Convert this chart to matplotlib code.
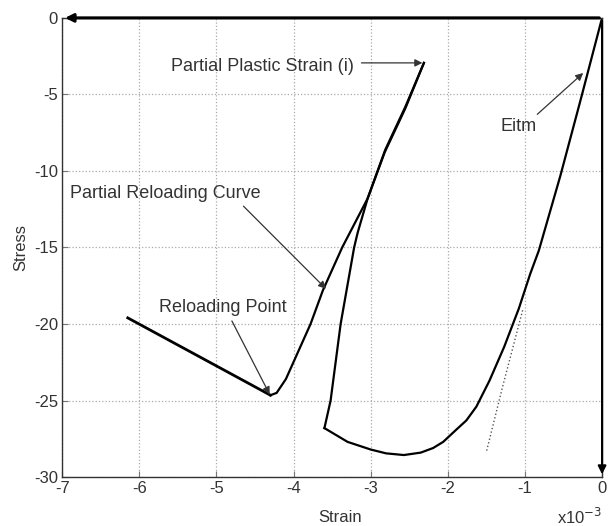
import matplotlib
matplotlib.use("Agg")
import matplotlib.pyplot as plt

plt.rcParams['font.family'] = ['Liberation Sans', 'DejaVu Sans']
plt.rcParams['axes.unicode_minus'] = False

# Envelope (monotonic loading) curve: strain (x1e-3), stress
env_strain = [0.0, -0.27, -0.54, -0.82, -0.93, -1.08, -1.27, -1.46, -1.63, -1.76, -1.89, -2.06, -2.19,
              -2.35, -2.57, -2.80, -3.00, -3.30, -3.60]
env_stress = [0.0, -5.2, -10.3, -15.2, -16.7, -19.0, -21.5, -23.7, -25.4, -26.3, -26.9, -27.7, -28.1,
              -28.4, -28.56, -28.45, -28.2, -27.7, -26.8]

# Unloading curve down to partial plastic strain
unl_strain = [-3.60, -3.52, -3.39, -3.215, -3.17, -3.04, -2.81, -2.55, -2.31]
unl_stress = [-26.8, -25.0, -20.0, -15.0, -14.05, -11.8, -8.6, -5.8, -2.94]

# Partial reloading curve
rel_strain = [-2.31, -2.55, -2.82, -3.04, -3.37, -3.62, -3.78, -4.10, -4.22, -4.30]
rel_stress = [-2.94, -5.9, -8.8, -11.8, -15.0, -17.8, -20.0, -23.6, -24.5, -24.65]

# Segment after reloading point
seg_strain = [-4.30, -6.15]
seg_stress = [-24.65, -19.6]

# Dotted elastic-parallel line
dot_strain = [-1.03, -1.29, -1.50]
dot_stress = [-19.1, -24.1, -28.35]

xticks = [-7, -6, -5, -4, -3, -2, -1, 0]
yticks = [0, -5, -10, -15, -20, -25, -30]

fig = plt.figure(figsize=(6.10, 5.26), dpi=100)
ax = fig.add_axes([0.102, 0.093, 0.885, 0.873])

ax.plot(env_strain, env_stress, color='black', lw=1.6)
ax.plot(unl_strain, unl_stress, color='black', lw=1.6)
ax.plot(rel_strain, rel_stress, color='black', lw=1.6)
ax.plot(seg_strain, seg_stress, color='black', lw=2.0)
ax.plot(dot_strain, dot_stress, color='#555555', lw=1.0, ls=':')

# Axis arrows
ax.annotate('', xy=(-7, 0), xytext=(0, 0), annotation_clip=False,
            arrowprops=dict(arrowstyle='-|>', color='black', lw=2.2, mutation_scale=12))
ax.annotate('', xy=(0, -30), xytext=(0, 0), annotation_clip=False,
            arrowprops=dict(arrowstyle='-|>', color='black', lw=1.5, mutation_scale=12))

ax.set_xlim(-7, 0)
ax.set_ylim(-30, 0)
ax.set_xticks(xticks)
ax.set_yticks(yticks)
ax.tick_params(direction='in', labelsize=12, length=4, pad=3, color='#777777', labelcolor='#333333')
ax.grid(True, ls=':', color='#aaaaaa', lw=0.9)
for s in ax.spines.values():
    s.set_color('#333333')
    s.set_linewidth(1.0)

tk = dict(fontsize=13, color='#333333')
arr = dict(arrowstyle='-|>', color='#333333', lw=0.9, mutation_scale=11, shrinkA=0, shrinkB=0)

ax.text(-3.22, -3.2, 'Partial Plastic Strain (i)', ha='right', va='center', **tk)
ax.annotate('', xy=(-2.33, -2.94), xytext=(-3.12, -2.94), arrowprops=arr)

ax.text(-6.9, -11.5, 'Partial Reloading Curve', ha='left', va='center', **tk)
ax.annotate('', xy=(-3.58, -17.7), xytext=(-4.65, -12.3), arrowprops=arr)

ax.text(-5.74, -18.95, 'Reloading Point', ha='left', va='center', **tk)
ax.annotate('', xy=(-4.31, -24.6), xytext=(-4.80, -19.8), arrowprops=arr)

ax.text(-1.08, -7.1, 'Eitm', ha='center', va='center', **tk)
ax.annotate('', xy=(-0.245, -3.6), xytext=(-0.84, -6.3), arrowprops=arr)

ax.set_ylabel('Stress', fontsize=12, color='#333333', labelpad=4)
fig.text(340/610, 1 - 517/526, 'Strain', ha='center', va='center', fontsize=12, color='#333333')
fig.text(580/610, 1 - 517/526, 'x10$^{-3}$', ha='center', va='center', fontsize=12, color='#333333')

fig.savefig('out.png', dpi=100)
